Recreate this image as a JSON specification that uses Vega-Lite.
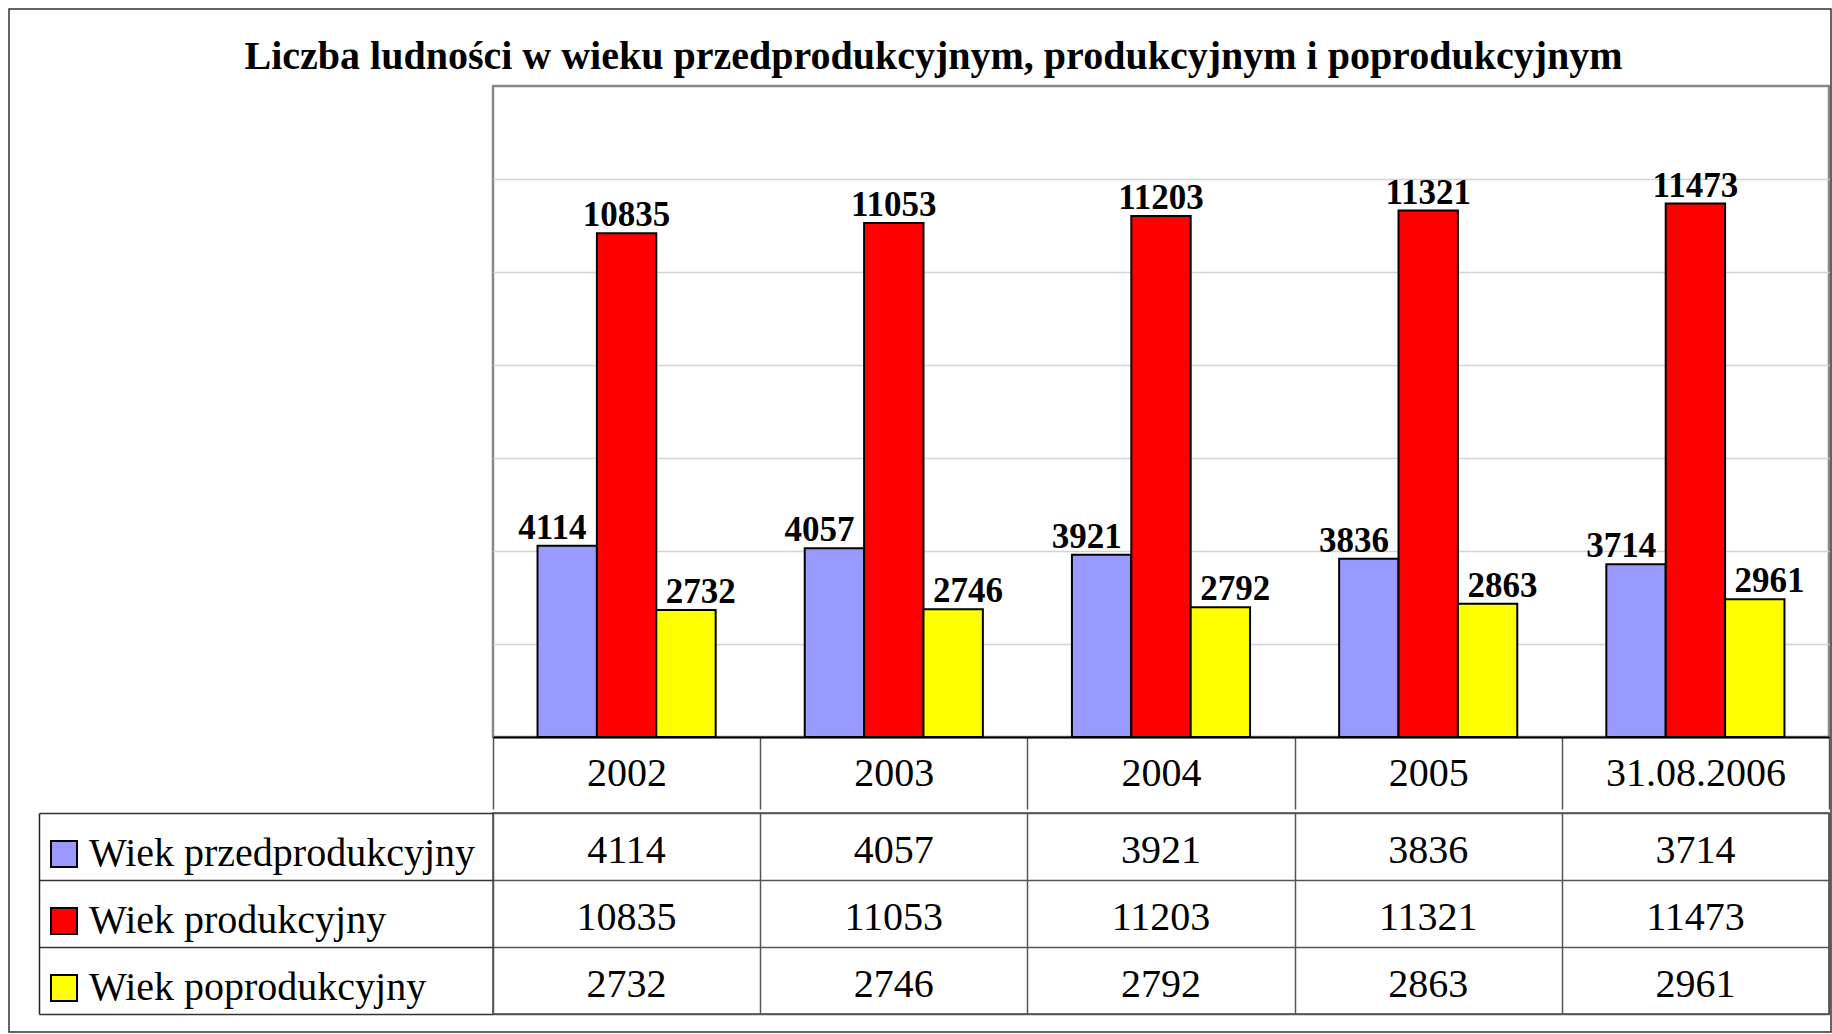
{
  "$schema": "https://vega.github.io/schema/vega-lite/v6.json",
  "padding": {"left": 9, "top": 9, "right": 0, "bottom": 0},
  "background": "white",
  "title": {
    "text": "Liczba ludności w wieku przedprodukcyjnym, produkcyjnym i poprodukcyjnym",
    "font": "Liberation Serif", "fontSize": 40, "fontWeight": "bold", "color": "black",
    "anchor": "middle", "offset": -68, "dx": 13
  },
  "datasets": {
    "d": [
      {"period": "2002", "series": "Wiek przedprodukcyjny", "value": 4114},
      {"period": "2002", "series": "Wiek produkcyjny", "value": 10835},
      {"period": "2002", "series": "Wiek poprodukcyjny", "value": 2732},
      {"period": "2003", "series": "Wiek przedprodukcyjny", "value": 4057},
      {"period": "2003", "series": "Wiek produkcyjny", "value": 11053},
      {"period": "2003", "series": "Wiek poprodukcyjny", "value": 2746},
      {"period": "2004", "series": "Wiek przedprodukcyjny", "value": 3921},
      {"period": "2004", "series": "Wiek produkcyjny", "value": 11203},
      {"period": "2004", "series": "Wiek poprodukcyjny", "value": 2792},
      {"period": "2005", "series": "Wiek przedprodukcyjny", "value": 3836},
      {"period": "2005", "series": "Wiek produkcyjny", "value": 11321},
      {"period": "2005", "series": "Wiek poprodukcyjny", "value": 2863},
      {"period": "31.08.2006", "series": "Wiek przedprodukcyjny", "value": 3714},
      {"period": "31.08.2006", "series": "Wiek produkcyjny", "value": 11473},
      {"period": "31.08.2006", "series": "Wiek poprodukcyjny", "value": 2961}
    ]
  },
  "data": {"name": "d"},
  "spacing": 0,
  "vconcat": [
    {
      "width": 1336,
      "height": 651,
      "view": {"stroke": "#888888", "strokeWidth": 2.5},
      "layer": [
        {
          "mark": {"type": "bar", "stroke": "black", "strokeWidth": 2},
          "encoding": {
            "x": {
              "field": "period", "type": "nominal",
              "sort": ["2002", "2003", "2004", "2005", "31.08.2006"],
              "scale": {"paddingInner": 0, "paddingOuter": 0},
              "axis": {
                "title": null, "orient": "bottom", "domain": true, "domainColor": "black", "domainWidth": 2,
                "ticks": true, "tickBand": "extent", "tickSize": 72, "tickColor": "#555555", "tickWidth": 1.5,
                "labelFont": "Liberation Serif", "labelFontSize": 40, "labelColor": "black", "labelAngle": 0,
                "labelPadding": -36, "labelBaseline": "middle", "labelLimit": 0, "grid": false
              }
            },
            "y": {
              "field": "value", "type": "quantitative",
              "scale": {"domain": [0, 14000]},
              "axis": {
                "title": null, "labels": false, "ticks": false, "domain": false,
                "grid": true, "gridColor": "#d4d4d4", "gridWidth": 1.5,
                "values": [2000, 4000, 6000, 8000, 10000, 12000],
                "minExtent": 454, "maxExtent": 454
              }
            },
            "xOffset": {
              "field": "series", "sort": ["Wiek przedprodukcyjny", "Wiek produkcyjny", "Wiek poprodukcyjny"],
              "scale": {"paddingInner": 0, "paddingOuter": 0.75}
            },
            "color": {
              "field": "series", "type": "nominal",
              "sort": ["Wiek przedprodukcyjny", "Wiek produkcyjny", "Wiek poprodukcyjny"],
              "scale": {"domain": ["Wiek przedprodukcyjny", "Wiek produkcyjny", "Wiek poprodukcyjny"], "range": ["#9999FF", "#FF0000", "#FFFF00"]},
              "legend": {
                "orient": "none", "legendX": -449, "legendY": 748, "title": null, "direction": "vertical",
                "symbolType": "square", "symbolSize": 676, "symbolStrokeColor": "black", "symbolStrokeWidth": 2,
                "symbolOpacity": 1,
                "labelFont": "Liberation Serif", "labelFontSize": 40, "labelColor": "black", "labelLimit": 0,
                "labelOffset": 5, "rowPadding": 27, "padding": 0
              }
            }
          }
        },
        {
          "mark": {"type": "text", "font": "Liberation Serif", "fontWeight": "bold", "fontSize": 35, "baseline": "alphabetic", "dy": -7, "color": "black"},
          "encoding": {
            "x": {"field": "period", "type": "nominal", "sort": ["2002", "2003", "2004", "2005", "31.08.2006"]},
            "y": {"field": "value", "type": "quantitative"},
            "xOffset": {"field": "series", "sort": ["Wiek przedprodukcyjny", "Wiek produkcyjny", "Wiek poprodukcyjny"], "scale": {"type": "point", "padding": 0.8}},
            "text": {"field": "value", "type": "quantitative", "format": "d"}
          }
        }
      ],
      "resolve": {"scale": {"xOffset": "independent"}}
    },
    {
      "width": 1336,
      "height": 201,
      "view": {"stroke": "#444444", "strokeWidth": 1.5},
      "layer": [
        {
          "mark": {"type": "text", "font": "Liberation Serif", "fontSize": 40, "baseline": "middle", "dy": 4, "color": "black"},
          "encoding": {
            "x": {
              "field": "period", "type": "nominal",
              "sort": ["2002", "2003", "2004", "2005", "31.08.2006"],
              "scale": {"paddingInner": 0, "paddingOuter": 0},
              "axis": {"title": null, "labels": false, "ticks": false, "domain": false, "grid": true, "tickBand": "extent", "gridColor": "#555555", "gridWidth": 1.5}
            },
            "y": {
              "field": "series", "type": "nominal",
              "sort": ["Wiek przedprodukcyjny", "Wiek produkcyjny", "Wiek poprodukcyjny"],
              "scale": {"paddingInner": 0, "paddingOuter": 0},
              "axis": {
                "title": null, "labels": false, "ticks": true, "tickBand": "extent", "tickSize": 454, "tickColor": "#333333", "tickWidth": 1.5,
                "domain": false, "grid": true, "gridColor": "#555555", "gridWidth": 1.5, "minExtent": 454, "maxExtent": 454
              }
            },
            "text": {"field": "value", "type": "quantitative", "format": "d"}
          }
        },
        {
          "mark": {"type": "text", "opacity": 0},
          "encoding": {
            "y": {
              "field": "series", "type": "nominal",
              "sort": ["Wiek przedprodukcyjny", "Wiek produkcyjny", "Wiek poprodukcyjny"],
              "scale": {"paddingInner": 0, "paddingOuter": 0},
              "axis": {
                "title": null, "orient": "left", "offset": 454, "labels": false, "ticks": false, "grid": false,
                "domain": true, "domainColor": "#222222", "domainWidth": 1.5, "minExtent": 0, "maxExtent": 0
              }
            },
            "fill": {
              "datum": 0, "type": "quantitative",
              "scale": {"domain": [0, 1], "range": ["rgba(255,255,255,0)", "rgba(255,255,255,0)"]},
              "legend": {
                "orient": "none", "legendX": -484, "legendY": -77, "title": null, "direction": "vertical",
                "type": "gradient", "gradientLength": 1023, "gradientThickness": 1822,
                "gradientStrokeColor": "#333333", "gradientStrokeWidth": 1.5,
                "labelExpr": "''", "labelFontSize": 1, "labelOffset": 0, "labelOpacity": 0, "tickCount": 1, "padding": 0
              }
            },
            "text": {"field": "value", "type": "quantitative", "format": "d"}
          }
        }
      ],
      "resolve": {"scale": {"y": "independent"}, "axis": {"y": "independent"}}
    }
  ]
}
